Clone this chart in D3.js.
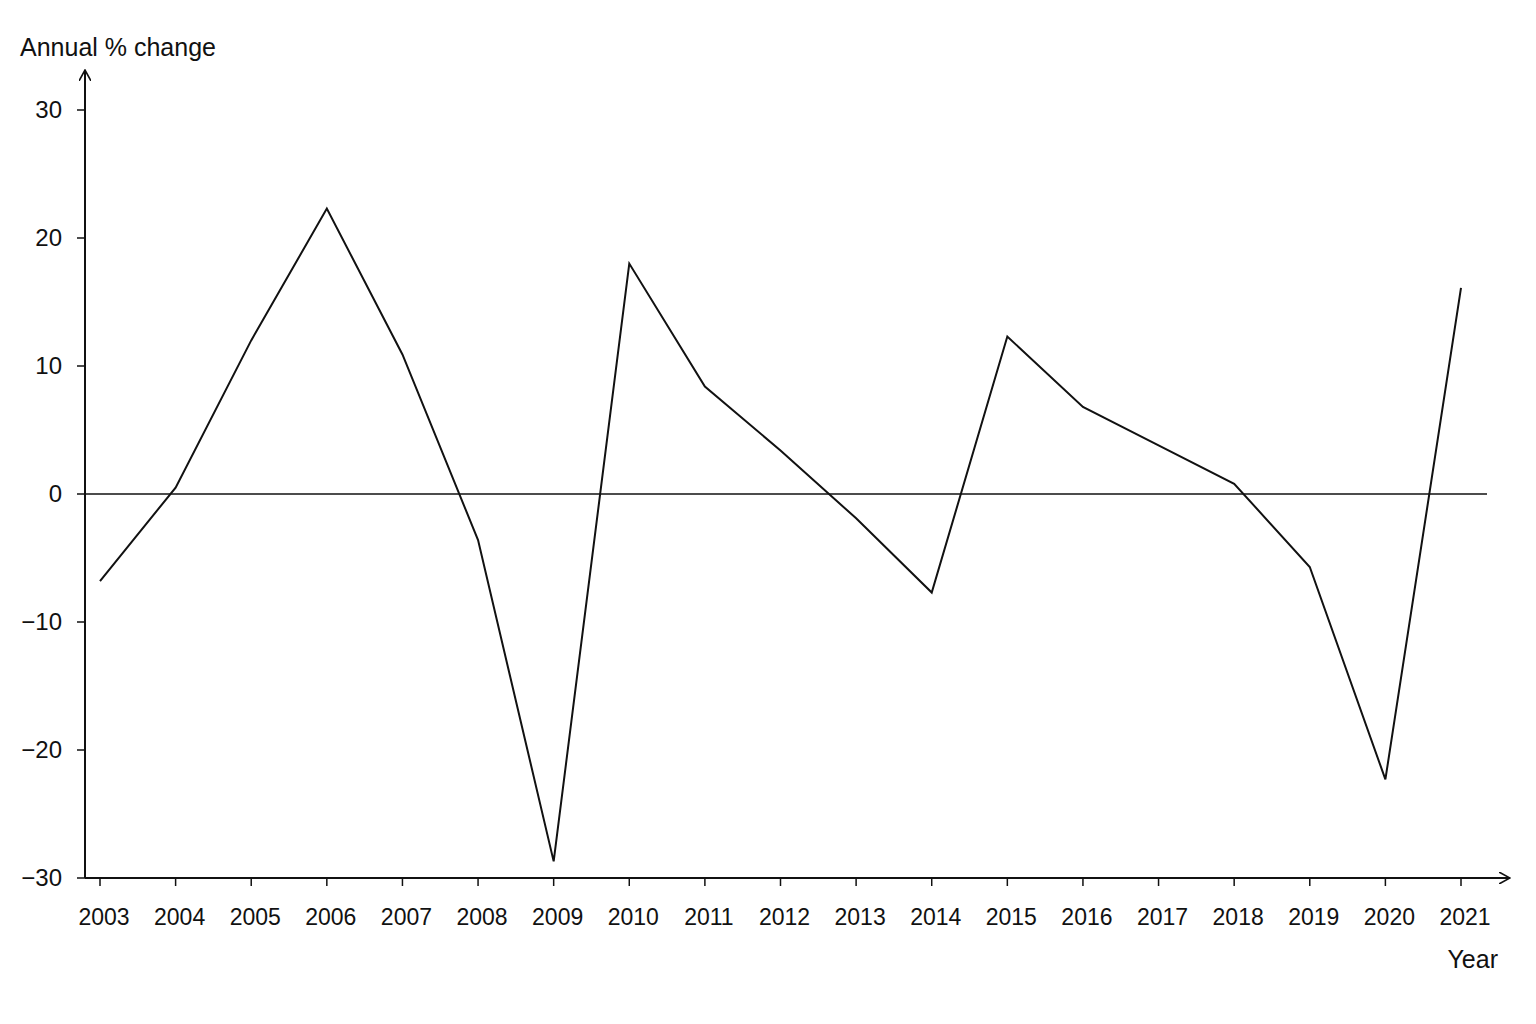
<!DOCTYPE html>
<html><head><meta charset="utf-8">
<script src="https://cdn.jsdelivr.net/npm/d3@7"></script>
<style>body{margin:0;background:#fff}text{font-family:"Liberation Sans Narrow","Arial Narrow","Liberation Sans",sans-serif;fill:#111}</style>
</head><body><svg id="chart" width="1536" height="1024"></svg>
<script>
const years = [2003,2004,2005,2006,2007,2008,2009,2010,2011,2012,2013,2014,2015,2016,2017,2018,2019,2020,2021];
const values = [-6.8,0.5,12.0,22.3,10.9,-3.6,-28.7,18.0,8.4,3.4,-1.9,-7.7,12.3,6.8,3.8,0.8,-5.7,-22.3,16.1];
const yTicks = [-30,-20,-10,0,10,20,30];

const svg = d3.select('#chart');
const x = d3.scaleLinear().domain([2003, 2021]).range([100, 1461]);
const y = d3.scaleLinear().domain([-30, 30]).range([878, 110]);
const left = 85, bottom = 878;

svg.append('defs').append('marker').attr('id', 'arr')
  .attr('viewBox', '0 0 12 12').attr('refX', 11).attr('refY', 6)
  .attr('markerWidth', 12).attr('markerHeight', 12).attr('markerUnits', 'userSpaceOnUse')
  .attr('orient', 'auto')
  .append('path').attr('d', 'M0,0 L11,6 L0,12').attr('fill', 'none').attr('stroke', '#111').attr('stroke-width', 1.6);

// axes
svg.append('line').attr('x1', left).attr('y1', bottom).attr('x2', left).attr('y2', 70)
  .attr('stroke', '#111').attr('stroke-width', 2).attr('marker-end', 'url(#arr)');
svg.append('line').attr('x1', left).attr('y1', bottom).attr('x2', 1510).attr('y2', bottom)
  .attr('stroke', '#111').attr('stroke-width', 2).attr('marker-end', 'url(#arr)');

yTicks.forEach((t) => {
  svg.append('line').attr('x1', left - 8).attr('x2', left).attr('y1', y(t)).attr('y2', y(t)).attr('stroke', '#111').attr('stroke-width', 1.5);
  svg.append('text').attr('x', 62).attr('y', y(t) + 8).attr('text-anchor', 'end').attr('font-size', 24)
    .text(t < 0 ? '\u2212' + Math.abs(t) : t);
});
years.forEach((yr) => {
  svg.append('line').attr('x1', x(yr)).attr('x2', x(yr)).attr('y1', bottom).attr('y2', bottom + 8).attr('stroke', '#111').attr('stroke-width', 1.5);
  svg.append('text').attr('x', x(yr) + 4).attr('y', 925).attr('text-anchor', 'middle').attr('font-size', 23).text(yr);
});

// zero line
svg.append('line').attr('x1', left).attr('x2', 1487).attr('y1', y(0)).attr('y2', y(0)).attr('stroke', '#111').attr('stroke-width', 1.5);

svg.append('path').datum(years.map((yr, i) => [yr, values[i]]))
  .attr('d', d3.line().x((d) => x(d[0])).y((d) => y(d[1])))
  .attr('fill', 'none').attr('stroke', '#111').attr('stroke-width', 2);

svg.append('text').attr('x', 20).attr('y', 56).attr('font-size', 25).text('Annual % change');
svg.append('text').attr('x', 1498).attr('y', 968).attr('text-anchor', 'end').attr('font-size', 25).text('Year');
</script></body></html>
